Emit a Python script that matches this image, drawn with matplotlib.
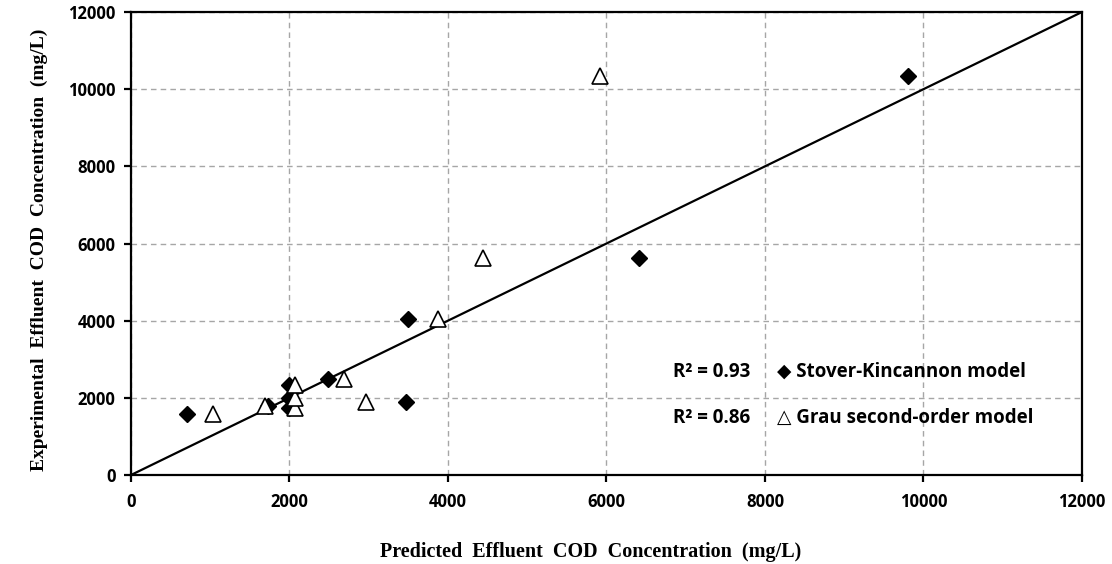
import matplotlib.pyplot as plt

# Dados (mg/L)
experimental = [1590, 1800, 1740, 1990, 2320, 2500, 1880, 4040, 5620, 10340]
pred_stover = [710, 1730, 2000, 2000, 2000, 2490, 3470, 3500, 6410, 9800]
pred_grau = [1030, 1690, 2070, 2070, 2070, 2690, 2960, 3880, 4440, 5920]
ticks = [0, 2000, 4000, 6000, 8000, 10000, 12000]

fig = plt.figure(figsize=(11.12, 5.64), dpi=100)
ax = fig.add_axes([0.1178, 0.1578, 0.8552, 0.8209])

# Linha 1:1
ax.plot([0, 12000], [0, 12000], color='black', lw=1.6, zorder=2)

ax.plot(pred_stover, experimental, linestyle='none', marker='D', markersize=8,
        color='black', zorder=3)
ax.plot(pred_grau, experimental, linestyle='none', marker='^', markersize=11,
        markerfacecolor='white', markeredgecolor='black', markeredgewidth=1.2, zorder=4)

ax.set_xlim(0, 12000)
ax.set_ylim(0, 12000)
ax.set_xticks(ticks)
ax.set_yticks(ticks)
ax.grid(True, color='#a6a6a6', linestyle=(0, (4, 3)), linewidth=1)
ax.set_axisbelow(True)

for s in ax.spines.values():
    s.set_linewidth(1.6)
ax.tick_params(direction='out', length=5, width=1.6, labelsize=12)
ax.tick_params(axis='x', pad=8)
ax.tick_params(axis='y', pad=6)
for lab in ax.get_xticklabels() + ax.get_yticklabels():
    lab.set_fontfamily('Open Sans')
    lab.set_fontweight('bold')

ax.set_xlabel('Predicted  Effluent  COD  Concentration  (mg/L)', family='Liberation Serif',
              fontweight='bold', fontsize=14.5)
ax.set_ylabel('Experimental  Effluent  COD  Concentration  (mg/L)', family='Liberation Serif',
              fontweight='bold', fontsize=14)
ax.xaxis.set_label_coords(0.4837, -0.145)
ax.yaxis.set_label_coords(-0.087, 0.486)

# Legenda com R²
fam = ['Open Sans', 'DejaVu Sans']
ax.text(6840, 2670, 'R² = 0.93', family=fam, fontweight='bold', fontsize=13.5, va='center')
ax.text(8150, 2670, '◆ Stover-Kincannon model', family=fam, fontweight='bold', fontsize=13.5, va='center')
ax.text(6840, 1480, 'R² = 0.86', family=fam, fontweight='bold', fontsize=13.5, va='center')
ax.text(8150, 1480, '△ Grau second-order model', family=fam, fontweight='bold', fontsize=13.5, va='center')

plt.savefig('out.png', dpi=100)
